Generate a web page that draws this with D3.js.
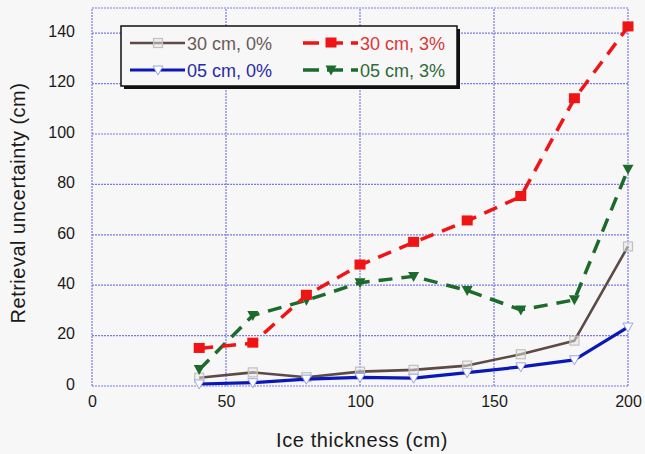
<!DOCTYPE html>
<html><head><meta charset="utf-8">
<script src="https://cdn.jsdelivr.net/npm/d3@7"></script>
<style>html,body{margin:0;padding:0;background:#f7f7f7;}svg{display:block;font-family:"Liberation Sans",Arial,sans-serif;}</style>
</head><body><svg id="c" width="645" height="454"></svg>
<script>
const thickness = [40, 60, 80, 100, 120, 140, 160, 180, 200];
const s30_0 = [3.3, 5.4, 3.5, 5.7, 6.4, 8.1, 12.6, 18, 55.4];
const s05_0 = [0.8, 1.3, 2.7, 3.4, 3.1, 5.3, 7.6, 10.4, 23.4];
const s30_3 = [14.9, 17, 36, 48, 57, 65.5, 75.2, 114, 142.5];
const s05_3 = [6.5, 28, 34, 41, 43.5, 37.9, 30.2, 34.2, 86];
const xTicks = [0, 50, 100, 150, 200];
const yTicks = [0, 20, 40, 60, 80, 100, 120, 140];
const seriesNames = ["30 cm, 0%", "05 cm, 0%", "30 cm, 3%", "05 cm, 3%"];

const svg = d3.select("#c");
const x = d3.scaleLinear().domain([0, 200]).range([92, 628]);
const y = d3.scaleLinear().domain([0, 150]).range([386, 8]);
const grid = "#7b7be4";
const font = "Liberation Sans, Arial, sans-serif";

const g = svg.append("g");
g.selectAll(".gy").data(yTicks.concat([150])).enter().append("line")
  .attr("x1", x(0)).attr("x2", x(200)).attr("y1", d => y(d)).attr("y2", d => y(d))
  .attr("stroke", grid).attr("stroke-width", 1.2).attr("stroke-dasharray", "2,1");
g.selectAll(".gx").data(xTicks).enter().append("line")
  .attr("x1", d => x(d)).attr("x2", d => x(d)).attr("y1", y(0)).attr("y2", y(150))
  .attr("stroke", grid).attr("stroke-width", 1.2).attr("stroke-dasharray", "2,1");

const xa = svg.append("g").attr("transform", `translate(0,${y(0)})`)
  .call(d3.axisBottom(x).tickValues(xTicks).tickSize(0).tickPadding(10));
xa.select(".domain").remove();
xa.selectAll("text").attr("font-size", 16).attr("fill", "#1a1a1a").attr("font-family", font);
const ya = svg.append("g").attr("transform", `translate(${x(0)},0)`)
  .call(d3.axisLeft(y).tickValues(yTicks).tickSize(0).tickPadding(17));
ya.select(".domain").remove();
ya.selectAll("text").attr("font-size", 16).attr("fill", "#1a1a1a").attr("font-family", font).attr("dy", "0.2em");

svg.append("text").attr("x", 362).attr("y", 447).attr("text-anchor", "middle")
  .attr("font-size", 20).attr("letter-spacing", 0.6).attr("fill", "#1a1a1a").text("Ice thickness (cm)");
svg.append("text").attr("transform", "translate(25,203) rotate(-90)").attr("text-anchor", "middle")
  .attr("font-size", 20).attr("letter-spacing", 0.5).attr("fill", "#1a1a1a").text("Retrieval uncertainty (cm)");

const series = [
  {name: seriesNames[0], vals: s30_0, color: "#5c4a46", width: 2.6, dash: null, marker: "sq-open", text: "#6a5a55"},
  {name: seriesNames[1], vals: s05_0, color: "#0b18b8", width: 3.2, dash: null, marker: "tri-open", text: "#2a2aa8"},
  {name: seriesNames[2], vals: s30_3, color: "#f01414", width: 3.5, dash: "14,9", marker: "sq-fill", text: "#d83838"},
  {name: seriesNames[3], vals: s05_3, color: "#1c6a2c", width: 3.5, dash: "14,9", marker: "tri-fill", text: "#2e6a3a"}
];

function drawMarker(sel, type, color) {
  if (type === "sq-open") {
    sel.append("rect").attr("x", -4.5).attr("y", -4.5).attr("width", 9).attr("height", 9)
      .attr("fill", "#e8e8e8").attr("fill-opacity", 0.5).attr("stroke", "#c4c0c0").attr("stroke-width", 1.2);
  } else if (type === "tri-open") {
    sel.append("path").attr("d", "M-5,-4L5,-4L0,5Z").attr("fill", "#ffffff").attr("stroke", "#9aa4e8").attr("stroke-width", 1);
  } else if (type === "sq-fill") {
    sel.append("rect").attr("x", -5.5).attr("y", -5.5).attr("width", 11).attr("height", 10).attr("fill", color);
  } else {
    sel.append("path").attr("d", "M-5.5,-4.5L5.5,-4.5L0,5.5Z").attr("fill", color);
  }
}

const line = d3.line().x((d, i) => x(thickness[i])).y(d => y(d));
[0, 1, 3, 2].forEach(k => {
  const s = series[k];
  const p = svg.append("path").datum(s.vals).attr("d", line).attr("fill", "none")
    .attr("stroke", s.color).attr("stroke-width", s.width).attr("stroke-linejoin", "round");
  if (s.dash) p.attr("stroke-dasharray", s.dash);
  s.vals.forEach((v, i) => {
    const m = svg.append("g").attr("transform", `translate(${x(thickness[i])},${y(v)})`);
    drawMarker(m, s.marker, s.color);
  });
});

const L = svg.append("g");
L.append("rect").attr("x", 124).attr("y", 29).attr("width", 336).attr("height", 60).attr("fill", "#111");
L.append("rect").attr("x", 121).attr("y", 26).attr("width", 336).attr("height", 60)
  .attr("fill", "#f7f7f7").attr("stroke", "#111").attr("stroke-width", 1.5);
const pos = [[130, 43], [130, 70], [303, 43], [303, 70]];
series.forEach((s, k) => {
  const [lx, ly] = pos[k];
  const gl = L.append("g");
  const ln = gl.append("line").attr("x1", lx).attr("x2", lx + 55).attr("y1", ly).attr("y2", ly)
    .attr("stroke", s.color).attr("stroke-width", s.width);
  if (s.dash) ln.attr("stroke-dasharray", "16,8");
  const m = gl.append("g").attr("transform", `translate(${lx + 28},${ly})`);
  drawMarker(m, s.marker, s.color);
  gl.append("text").attr("x", lx + 57).attr("y", ly + 6.5).attr("font-size", 18)
    .attr("fill", s.text).text(s.name);
});
</script></body></html>
